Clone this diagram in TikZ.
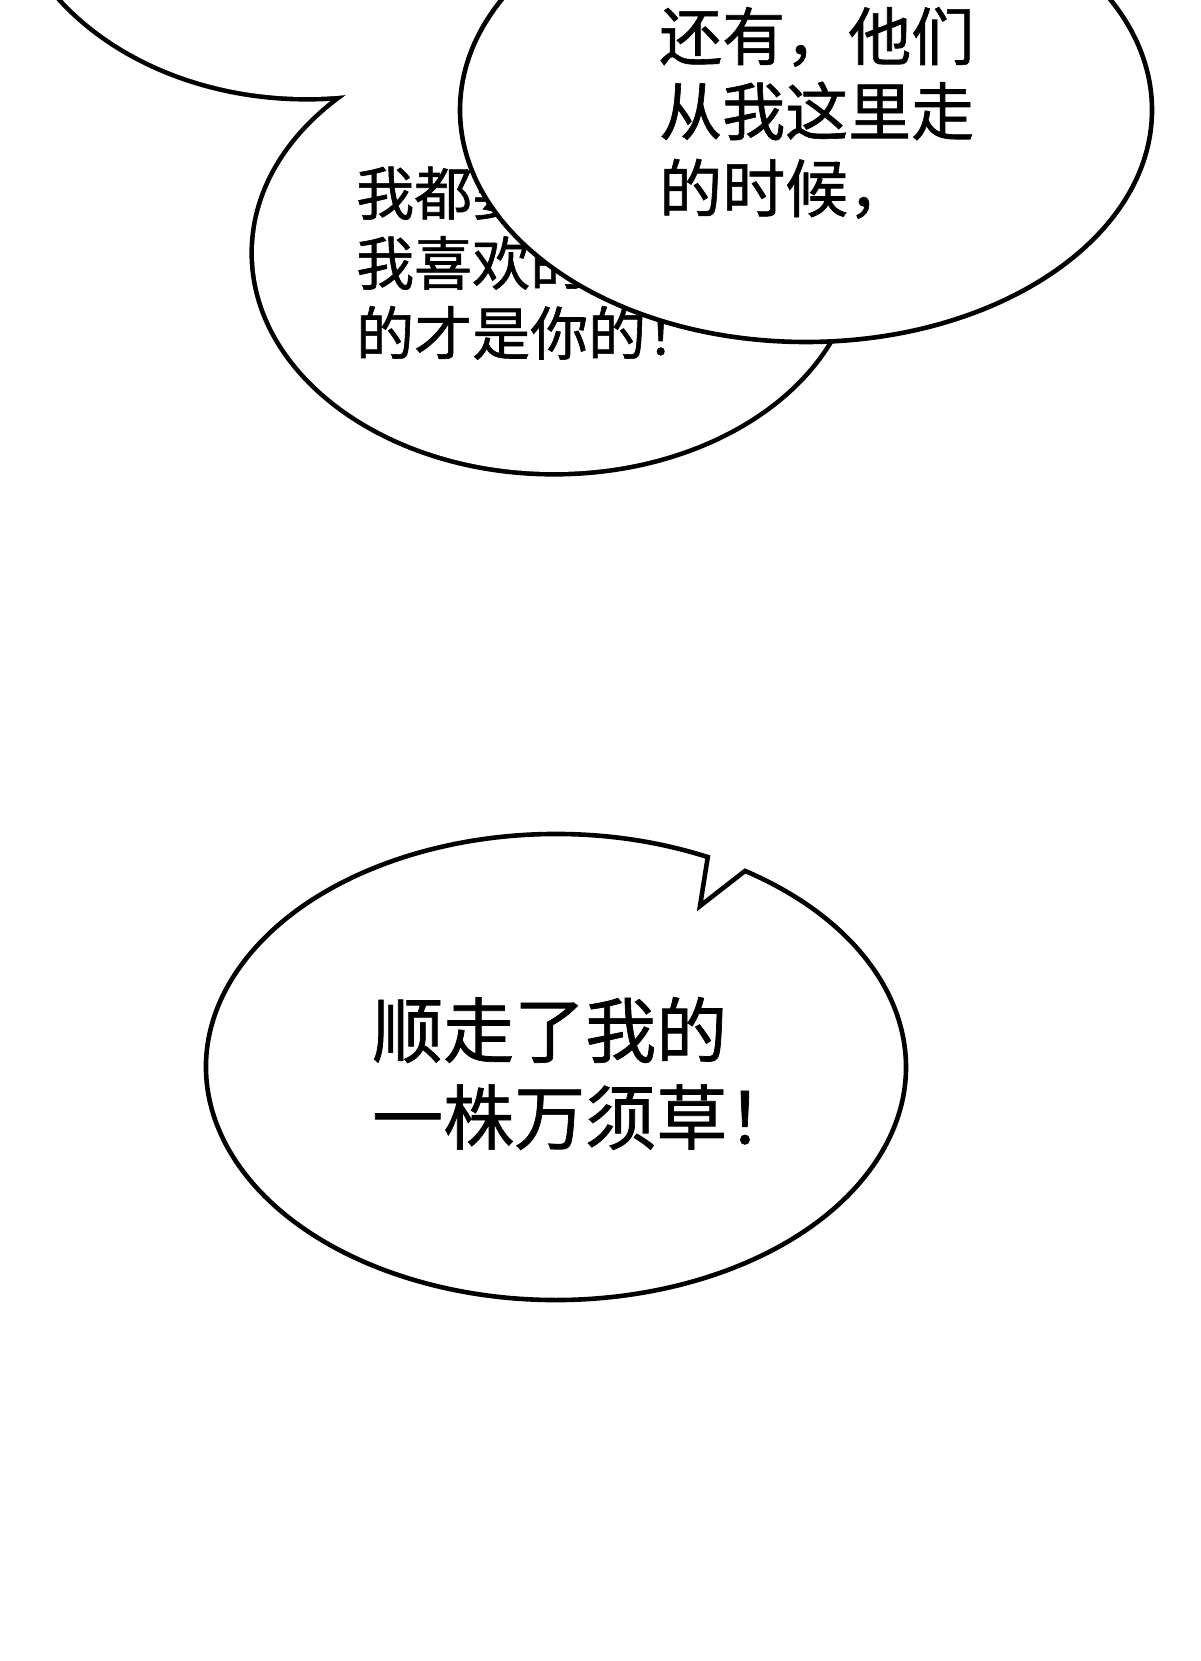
\documentclass[tikz,border=0pt]{standalone}
\usepackage{fontspec}
\newfontfamily\cjk[FakeBold=1]{Noto Sans CJK SC}
\tikzset{
  outline/.style={line width=4.6pt, draw=black, line join=miter},
  unionline/.style={line width=9.2pt, draw=black},
  bubblefill/.style={fill=white},
  txtA/.style={anchor=base west, inner sep=0pt, font=\cjk\fontsize{58}{70}\selectfont},
  txtB/.style={anchor=base west, inner sep=0pt, font=\cjk\fontsize{63}{77}\selectfont},
  txtC/.style={anchor=base west, inner sep=0pt, font=\cjk\fontsize{71}{88}\selectfont},
}
\begin{document}
\begin{tikzpicture}[x=1pt,y=-1pt]
\useasboundingbox (0,0) rectangle (1200,1661);
\fill[white] (0,0) rectangle (1200,1661);
\begin{scope}
\clip (0,0) rectangle (1200,1661);
% union of bubble 1 (top-left, off page) and bubble 2
\path[unionline] (307,-134) ellipse[x radius=300, y radius=231];
\path[unionline] (554,253) ellipse[x radius=300, y radius=219];
\path[bubblefill] (307,-134) ellipse[x radius=300, y radius=231];
\path[bubblefill] (554,253) ellipse[x radius=300, y radius=219];
% bubble 2 text (partly covered)
\node[txtA] (a1) at (356,215) {我都要说，};
\node[txtA] (a2) at (356,285) {我喜欢的是};
\node[txtA] (a3) at (356,355) {的才是你的！};
% bubble 3
\path[outline, bubblefill] (806,110) ellipse[x radius=346, y radius=232];
\node[txtB] (b1) at (659,60) {还有，他们};
\node[txtB] (b2) at (659,135) {从我这里走};
\node[txtB] (b3) at (659,212) {的时候，};
% bubble 4 with notch
\coordinate (c0) at (556,1067);
\coordinate (nA) at ({556+350*cos(-64.3)},{1067+233*sin(-64.3)});
\coordinate (nC) at (700,906);
\path[outline, bubblefill] (nA) arc[start angle=-64.3, end angle=-417.3, x radius=350, y radius=233] -- (nC) -- cycle;
\node[txtC] (c1) at (372,1057) {顺走了我的};
\node[txtC] (c2) at (372,1144) {一株万须草！};
\end{scope}
\end{tikzpicture}
\end{document}
